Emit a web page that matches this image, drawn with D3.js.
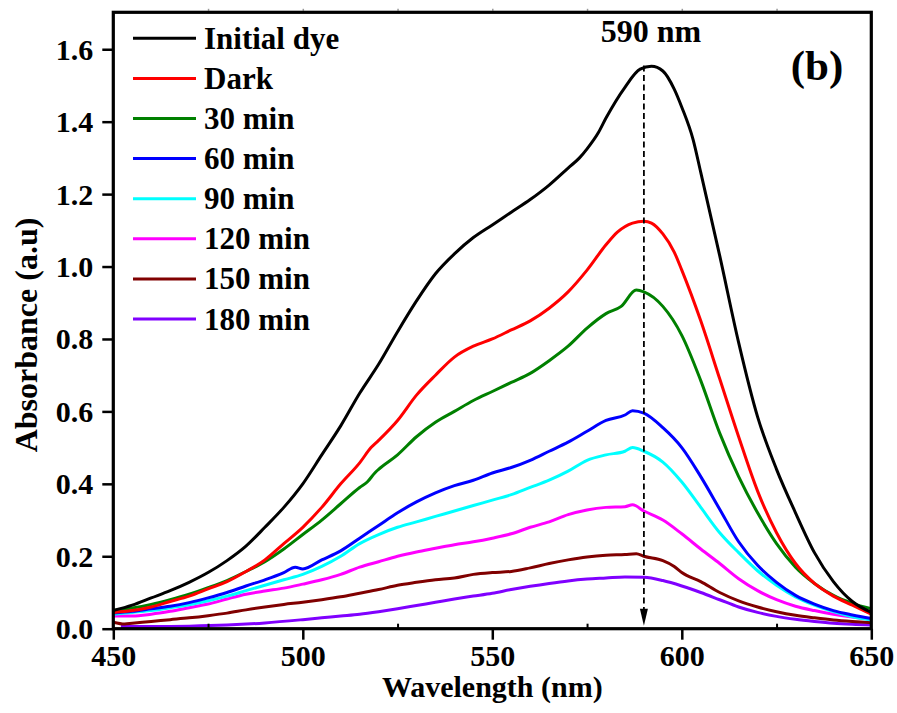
<!DOCTYPE html>
<html>
<head>
<meta charset="utf-8">
<script src="https://cdn.jsdelivr.net/npm/d3@7/dist/d3.min.js"></script>
<style>
  html, body { margin: 0; padding: 0; background: #fff; }
  svg { display: block; }
</style>
</head>
<body>
<svg id="chart" width="897" height="713"></svg>
<script>
// UV-Vis absorbance spectra: [wavelength (nm), absorbance]
const initialDye = [[450,0.05],[455,0.065],[460,0.085],[465,0.105],[470,0.128],[475,0.155],[480,0.188],[485,0.228],[490,0.28],[495,0.335],[500,0.40],[505,0.48],[510,0.56],[515,0.65],[520,0.73],[525,0.82],[530,0.905],[535,0.98],[540,1.035],[545,1.08],[550,1.115],[555,1.15],[560,1.185],[565,1.225],[570,1.272],[573,1.30],[575,1.325],[578,1.37],[580,1.41],[585,1.495],[589,1.545],[592,1.553],[595,1.54],[598,1.49],[600,1.44],[603,1.35],[605,1.26],[610,1.03],[615,0.79],[620,0.585],[625,0.44],[630,0.32],[635,0.21],[640,0.13],[645,0.075],[650,0.045]];
const dark = [[450,0.045],[455,0.05],[460,0.06],[465,0.075],[470,0.09],[475,0.11],[480,0.13],[485,0.158],[490,0.19],[495,0.235],[500,0.28],[505,0.335],[510,0.40],[515,0.458],[518,0.50],[520,0.52],[525,0.575],[530,0.645],[535,0.70],[540,0.75],[545,0.78],[550,0.80],[555,0.825],[560,0.85],[565,0.885],[570,0.93],[575,0.99],[580,1.06],[583,1.095],[587,1.12],[590,1.125],[592,1.12],[595,1.09],[598,1.04],[600,0.99],[605,0.85],[610,0.69],[615,0.53],[620,0.38],[625,0.265],[630,0.18],[635,0.125],[640,0.09],[645,0.065],[650,0.04]];
const min30 = [[450,0.05],[455,0.057],[460,0.067],[465,0.08],[470,0.095],[475,0.113],[480,0.133],[485,0.158],[490,0.185],[495,0.22],[500,0.26],[505,0.30],[510,0.345],[515,0.39],[517,0.405],[519,0.43],[520,0.44],[525,0.48],[530,0.53],[535,0.57],[540,0.60],[545,0.63],[550,0.655],[555,0.68],[560,0.705],[565,0.74],[570,0.78],[575,0.83],[580,0.87],[584,0.89],[588,0.935],[590,0.93],[595,0.89],[600,0.81],[605,0.685],[610,0.54],[615,0.42],[620,0.32],[625,0.235],[630,0.17],[635,0.125],[640,0.092],[645,0.07],[650,0.055]];
const min60 = [[450,0.043],[455,0.048],[460,0.055],[465,0.062],[470,0.072],[475,0.085],[480,0.10],[485,0.118],[490,0.135],[495,0.155],[498,0.17],[500,0.165],[505,0.19],[510,0.215],[515,0.25],[520,0.285],[525,0.32],[530,0.35],[535,0.375],[540,0.395],[545,0.41],[550,0.43],[555,0.445],[560,0.465],[565,0.49],[570,0.515],[575,0.545],[580,0.575],[585,0.59],[587,0.602],[590,0.595],[595,0.555],[600,0.50],[605,0.42],[610,0.33],[615,0.24],[620,0.175],[625,0.128],[630,0.092],[635,0.068],[640,0.05],[645,0.038],[650,0.028]];
const min90 = [[450,0.04],[455,0.045],[460,0.05],[465,0.058],[470,0.066],[475,0.077],[480,0.09],[485,0.105],[490,0.12],[495,0.135],[500,0.15],[505,0.172],[510,0.20],[515,0.235],[520,0.26],[525,0.28],[530,0.295],[535,0.31],[540,0.325],[545,0.34],[550,0.355],[555,0.37],[560,0.39],[565,0.41],[570,0.435],[575,0.465],[580,0.48],[585,0.49],[587,0.50],[590,0.49],[595,0.46],[600,0.405],[605,0.335],[610,0.265],[615,0.21],[620,0.16],[625,0.12],[630,0.088],[635,0.065],[640,0.047],[645,0.033],[650,0.024]];
const min120 = [[450,0.035],[455,0.035],[460,0.04],[465,0.048],[470,0.058],[475,0.068],[480,0.082],[485,0.095],[490,0.104],[495,0.112],[500,0.123],[505,0.135],[510,0.15],[515,0.17],[520,0.185],[525,0.20],[530,0.212],[535,0.222],[540,0.232],[545,0.24],[550,0.25],[555,0.262],[560,0.28],[565,0.295],[570,0.315],[575,0.328],[580,0.335],[585,0.337],[587,0.342],[590,0.325],[595,0.30],[600,0.262],[605,0.22],[610,0.18],[615,0.138],[620,0.105],[625,0.08],[630,0.062],[635,0.05],[640,0.04],[645,0.032],[650,0.026]];
const min150 = [[450,0.018],[453,0.013],[455,0.015],[460,0.02],[465,0.025],[470,0.03],[475,0.036],[480,0.043],[485,0.052],[490,0.06],[495,0.067],[500,0.073],[505,0.08],[510,0.088],[515,0.098],[520,0.108],[525,0.12],[530,0.128],[535,0.135],[540,0.14],[545,0.15],[550,0.155],[555,0.158],[560,0.168],[565,0.18],[570,0.19],[575,0.198],[580,0.203],[585,0.205],[588,0.207],[590,0.20],[595,0.188],[598,0.172],[600,0.155],[605,0.13],[610,0.10],[615,0.077],[620,0.06],[625,0.047],[630,0.037],[635,0.03],[640,0.024],[645,0.02],[650,0.017]];
const min180 = [[452,0.006],[460,0.006],[470,0.007],[480,0.01],[490,0.016],[500,0.025],[505,0.03],[510,0.035],[515,0.04],[520,0.047],[525,0.055],[530,0.064],[535,0.073],[540,0.082],[545,0.09],[550,0.098],[555,0.108],[560,0.117],[565,0.125],[570,0.132],[575,0.137],[580,0.14],[585,0.143],[590,0.142],[595,0.133],[600,0.118],[605,0.10],[610,0.08],[615,0.06],[620,0.045],[625,0.034],[630,0.026],[635,0.02],[640,0.015],[645,0.012],[650,0.01]];

const seriesNames = ["Initial dye", "Dark", "30 min", "60 min", "90 min", "120 min", "150 min", "180 min"];
const seriesData = [initialDye, dark, min30, min60, min90, min120, min150, min180];
const seriesColors = ["#000000", "#ff0000", "#008000", "#0000ff", "#00ffff", "#ff00ff", "#800000", "#8000ff"];

const xTicks = [450, 500, 550, 600, 650];
const xMinorTicks = [475, 525, 575, 625];
const yTicks = [0.0, 0.2, 0.4, 0.6, 0.8, 1.0, 1.2, 1.4, 1.6];
const peakWavelength = 590;

const FONT = "'Liberation Serif', 'Times New Roman', Tinos, serif";

const svg = d3.select("#chart");
const plotLeft = 113.3, plotRight = 871.3, plotTop = 12.3, plotBottom = 628.7;

const x = d3.scaleLinear().domain([450, 650]).range([plotLeft, plotRight]);
const y = d3.scaleLinear().domain([0, 1.702]).range([plotBottom, plotTop]);

svg.append("clipPath").attr("id", "plotclip")
  .append("rect").attr("x", plotLeft).attr("y", plotTop)
  .attr("width", plotRight - plotLeft).attr("height", plotBottom - plotTop);

// spectra, drawn from the last series up so the initial dye sits on top
const line = d3.line().x(d => x(d[0])).y(d => y(d[1])).curve(d3.curveMonotoneX);
const lines = svg.append("g").attr("clip-path", "url(#plotclip)");
d3.range(seriesData.length - 1, -1, -1).forEach(i => {
  lines.append("path")
    .datum(seriesData[i])
    .attr("d", line)
    .attr("fill", "none")
    .attr("stroke", seriesColors[i])
    .attr("stroke-width", 3)
    .attr("stroke-linejoin", "round");
});

// dashed marker at the absorption maximum
const px = x(peakWavelength);
svg.append("line")
  .attr("x1", px).attr("x2", px)
  .attr("y1", y(1.555)).attr("y2", plotBottom - 18)
  .attr("stroke", "#000").attr("stroke-width", 1.8)
  .attr("stroke-dasharray", "6,3.5");
svg.append("path")
  .attr("d", `M${px - 4},${plotBottom - 20} L${px + 4},${plotBottom - 20} L${px},${plotBottom - 3} Z`)
  .attr("fill", "#000");

// axes
const xAxis = d3.axisBottom(x).tickValues(xTicks).tickSize(11).tickPadding(14).tickFormat(d3.format("d"));
const gx = svg.append("g").attr("transform", `translate(0,${plotBottom})`).call(xAxis);
gx.select(".domain").remove();
gx.selectAll(".tick line").attr("stroke", "#000").attr("stroke-width", 2.5);
gx.selectAll(".tick text").attr("dy", "0.71em").attr("y", 16);

const xMinor = d3.axisBottom(x).tickValues(xMinorTicks).tickSize(-5).tickFormat("");
const gxm = svg.append("g").attr("transform", `translate(0,${plotBottom})`).call(xMinor);
gxm.select(".domain").remove();
gxm.selectAll(".tick line").attr("stroke", "#000").attr("stroke-width", 2);

const yAxis = d3.axisLeft(y).tickValues(yTicks).tickSize(11).tickPadding(9).tickFormat(d3.format(".1f"));
const gy = svg.append("g").attr("transform", `translate(${plotLeft},0)`).call(yAxis);
gy.select(".domain").remove();
gy.selectAll(".tick line").attr("stroke", "#000").attr("stroke-width", 2.5);
gy.selectAll(".tick text").attr("dy", "0.33em");

[gx, gy].forEach(g => g.attr("font-family", null).attr("font-size", null)
  .selectAll(".tick text")
  .style("font-family", FONT).style("font-weight", "bold").style("font-size", "30px").attr("fill", "#000"));

// faint ticks along the top edge
const xTop = d3.axisTop(x).tickValues(d3.range(475, 650, 25)).tickSize(2).tickFormat("");
const gxt = svg.append("g").attr("transform", `translate(0,${plotTop - 1.5})`).call(xTop);
gxt.select(".domain").remove();
gxt.selectAll(".tick line").attr("stroke", "#999").attr("stroke-width", 1.5);

// frame
svg.append("rect")
  .attr("x", plotLeft).attr("y", plotTop)
  .attr("width", plotRight - plotLeft).attr("height", plotBottom - plotTop)
  .attr("fill", "none").attr("stroke", "#000").attr("stroke-width", 3.2);

function label(sel, size) {
  return sel.style("font-family", FONT).style("font-weight", "bold")
    .style("font-size", size + "px").attr("fill", "#000");
}

// axis titles
label(svg.append("text"), 30)
  .attr("x", (plotLeft + plotRight) / 2).attr("y", 697)
  .attr("text-anchor", "middle")
  .text("Wavelength (nm)");
label(svg.append("text"), 32)
  .attr("transform", "translate(37,335) rotate(-90)")
  .attr("text-anchor", "middle")
  .text("Absorbance (a.u)");

// annotations
label(svg.append("text"), 32)
  .attr("x", 651).attr("y", 42)
  .attr("text-anchor", "middle")
  .text(`${peakWavelength} nm`);
label(svg.append("text"), 43)
  .attr("x", 817).attr("y", 80)
  .attr("text-anchor", "middle")
  .text("(b)");

// legend
const legend = svg.append("g");
seriesNames.forEach((name, i) => {
  const ly = 38.3 + i * 40.1;
  legend.append("line")
    .attr("x1", 133).attr("x2", 196).attr("y1", ly).attr("y2", ly)
    .attr("stroke", seriesColors[i]).attr("stroke-width", 3);
  label(legend.append("text"), 31)
    .attr("x", 204).attr("y", ly + 10.5)
    .text(name);
});
</script>
</body>
</html>
